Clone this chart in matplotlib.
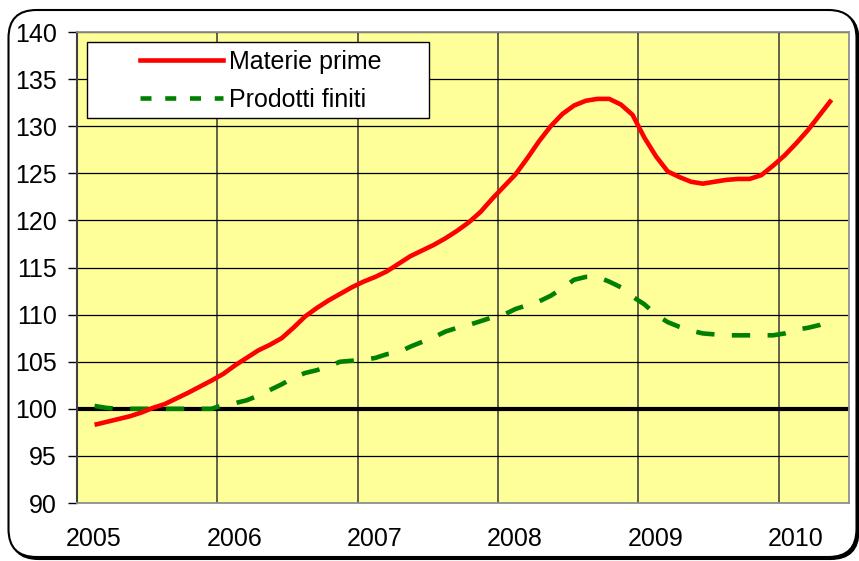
import matplotlib
matplotlib.use('Agg')
import matplotlib.pyplot as plt
import pandas as pd
from matplotlib.patches import FancyBboxPatch, Rectangle
from matplotlib.lines import Line2D

plt.rcParams['font.family'] = ['Liberation Sans', 'DejaVu Sans']

# ---- data (monthly index, base 100) ----
months = pd.period_range('2005-02', '2010-05', freq='M')
materie_prime = [98.3, 98.6, 98.9, 99.2, 99.6, 100.1, 100.5, 101.1, 101.7, 102.35, 103.0,
                 103.7, 104.6, 105.4, 106.2, 106.8, 107.5, 108.6, 109.8, 110.7, 111.5, 112.2, 112.9,
                 113.5, 114.0, 114.6, 115.4, 116.2, 116.8, 117.4, 118.1, 118.9, 119.8, 120.9, 122.3,
                 123.6, 124.9, 126.6, 128.4, 130.0, 131.3, 132.2, 132.7, 132.9, 132.9, 132.3, 131.2,
                 128.8, 126.8, 125.2, 124.6, 124.1, 123.9, 124.1, 124.3, 124.4, 124.4, 124.8, 125.8,
                 126.9, 128.2, 129.6, 131.2, 132.8]
prodotti_finiti = [100.3, 100.1, 100.0, 100.0, 100.0, 100.0, 100.0, 100.0, 100.0, 100.0, 100.0,
                   100.4, 100.6, 100.9, 101.4, 102.0, 102.6, 103.3, 103.8, 104.1, 104.5, 105.0, 105.1,
                   105.2, 105.4, 105.8, 106.0, 106.6, 107.1, 107.6, 108.2, 108.6, 108.9, 109.3, 109.7,
                   110.0, 110.6, 111.0, 111.4, 112.0, 112.8, 113.7, 114.0, 114.0, 113.5, 112.9, 111.9,
                   111.1, 110.0, 109.2, 108.7, 108.3, 108.0, 107.9, 107.8, 107.8, 107.8, 107.8, 107.8,
                   108.0, 108.4, 108.6, 108.9, 109.4]
years = ['2005', '2006', '2007', '2008', '2009', '2010']
series_labels = ['Materie prime', 'Prodotti finiti']
base_value = 100

# category positions: one slot per month starting Jan 2005
x = [(p.year - 2005) * 12 + (p.month - 1) + 0.5 for p in months]

W, H = 859, 561
fig = plt.figure(figsize=(W / 100, H / 100), dpi=100)

# rounded chart border with small shadow
shadow = FancyBboxPatch((0.105, 0.02), 8.48, 5.47, boxstyle='round,pad=0,rounding_size=0.28',
                        transform=fig.dpi_scale_trans, facecolor='black', edgecolor='black', lw=1.5,
                        zorder=0)
border = FancyBboxPatch((0.085, 0.04), 8.48, 5.47, boxstyle='round,pad=0,rounding_size=0.28',
                        transform=fig.dpi_scale_trans, facecolor='white', edgecolor='black', lw=1.5,
                        zorder=1)
fig.patches.extend([shadow, border])

ax = fig.add_axes([77 / W, 58 / H, 772 / W, 471 / H])
ax.set_zorder(2)
ax.set_facecolor('#FFFF99')
ax.set_xlim(0, 66)
ax.set_ylim(90, 140)

ax.set_yticks(range(90, 141, 5))
ax.yaxis.grid(True, color='black', lw=0.9)
ax.set_xticks([12, 24, 36, 48, 60], minor=True)
ax.xaxis.grid(True, which='minor', color='#606050', lw=1.4)
ax.set_xticks([12 * k + 1.45 for k in range(len(years))])
ax.set_xticklabels(years)
ax.set_axisbelow(True)

ax.tick_params(axis='y', direction='out', length=6.5, width=1, pad=8, labelsize=18, colors='black')
ax.tick_params(axis='x', which='both', length=0, pad=17, labelsize=18)

for s in ['top', 'right', 'bottom']:
    ax.spines[s].set_color('#909090')
    ax.spines[s].set_linewidth(1.3)
ax.spines['left'].set_color('#404040')
ax.spines['left'].set_linewidth(1.5)

ax.axhline(base_value, color='black', lw=3, zorder=2)
l1, = ax.plot(x, materie_prime, color='#FF0000', lw=3.3, zorder=4, solid_capstyle='butt')
l2, = ax.plot(x, prodotti_finiti, color='#008000', lw=3.3, zorder=3, dashes=(4.0, 3.8),
              dash_capstyle='butt')

# legend
ax.add_patch(Rectangle((10 / 772, 385 / 471), 342 / 772, 76 / 471, transform=ax.transAxes,
                       facecolor='white', edgecolor='black', lw=1.0, zorder=5))
h1 = Line2D([], [], color='#FF0000', lw=3.3)
h2 = Line2D([], [], color='#008000', lw=3.3, dashes=(2.4, 3.0), dash_capstyle='butt')
leg = ax.legend([h1, h2], series_labels, loc='upper left',
                bbox_to_anchor=(63 / 772, 1 - 18 / 471), frameon=False, fontsize=18,
                handlelength=3.3, handletextpad=0.25, borderpad=0, borderaxespad=0,
                labelspacing=0.55)
leg.set_zorder(6)

fig.savefig('out.png', dpi=100)
